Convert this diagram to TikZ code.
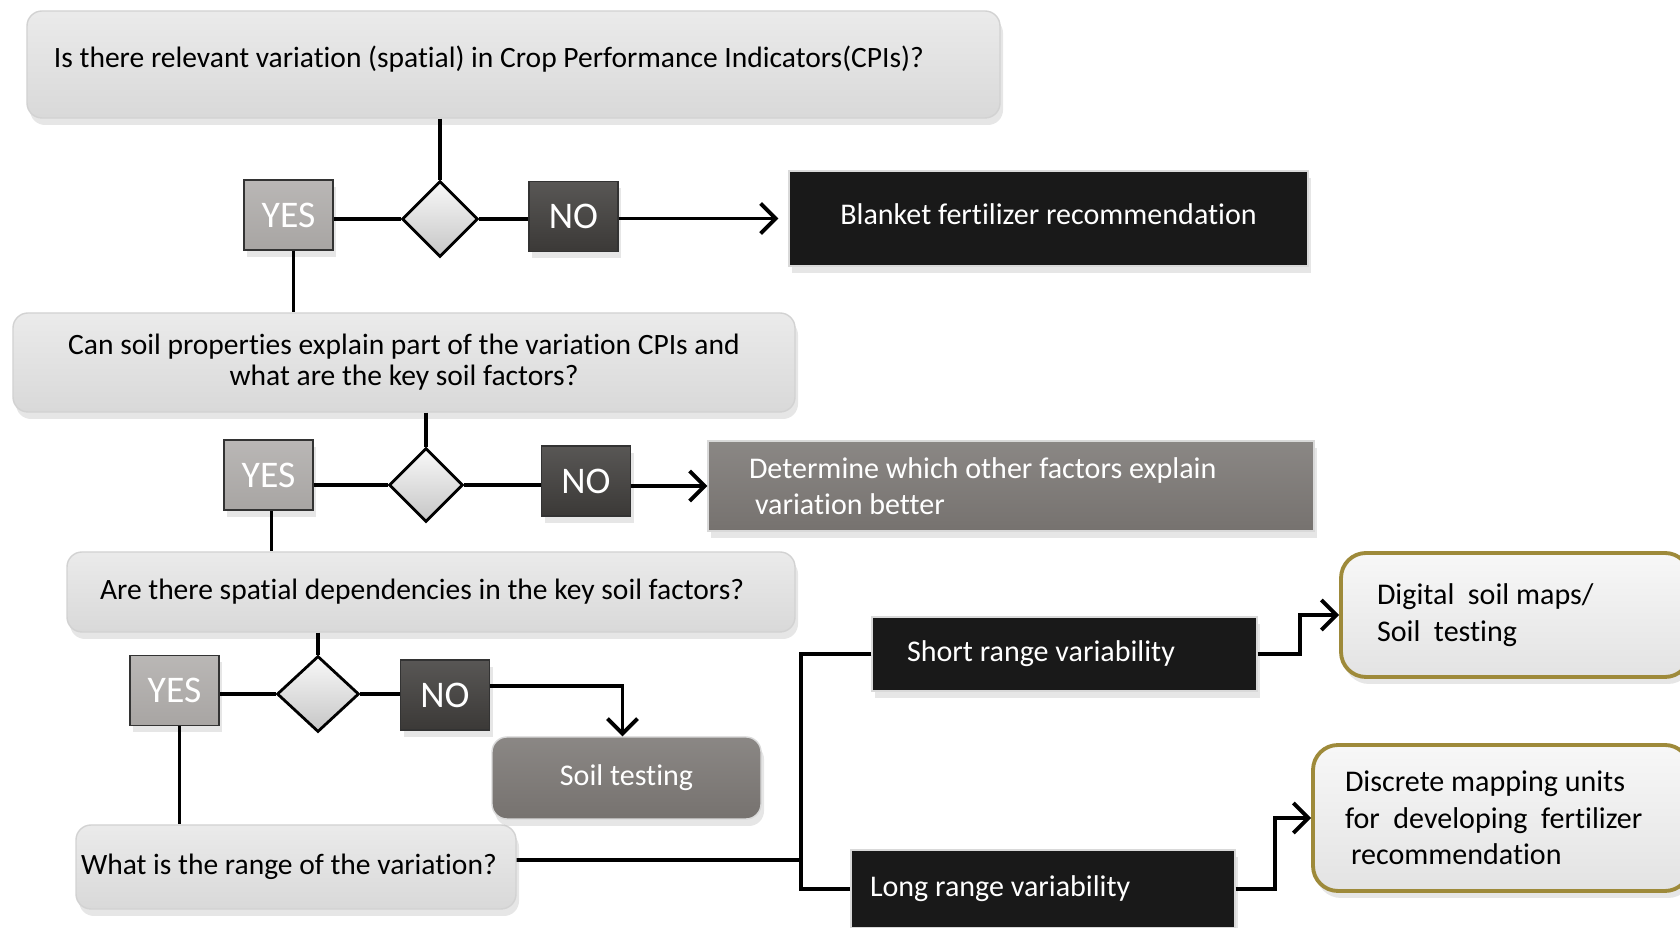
\documentclass[tikz,border=0pt]{standalone}
\usepackage{fontspec}
\setmainfont{Carlito}[Ligatures=NoCommon]
\usetikzlibrary{shapes.geometric,shadows,arrows.meta}

\definecolor{yesgray}{HTML}{A8A5A3}
\definecolor{nogray}{HTML}{3B3937}
\definecolor{midgray}{HTML}{76726F}
\definecolor{goldline}{HTML}{9E8A3A}
\hyphenpenalty=10000

\begin{document}
\begin{tikzpicture}[
	question/.style={draw=gray!35, rounded corners=1.5mm, top color=gray!16, bottom color=gray!30,
		drop shadow={opacity=0.2, shadow xshift=0.3mm, shadow yshift=-0.7mm}, inner ysep=0pt,
		font=\fontsize{8.4}{8.9}\selectfont},
	yesbox/.style={draw=black!80, top color=yesgray!80, bottom color=yesgray, text=white, minimum width=0.89cm,
		minimum height=0.7cm, inner sep=0pt, font=\fontsize{10.7}{12}\selectfont,
		drop shadow={opacity=0.2, shadow xshift=0.3mm, shadow yshift=-0.7mm}},
	nobox/.style={yesbox, top color=nogray!85, bottom color=nogray},
	choice/.style={diamond, draw=black, thick, top color=gray!5, bottom color=gray!45,
		minimum width=0.76cm, minimum height=0.76cm, inner sep=0pt},
	darkbox/.style={draw=gray!30, fill=black!90, text=white, inner ysep=0pt,
		font=\fontsize{8.55}{10.4}\selectfont, drop shadow={opacity=0.2, shadow xshift=0.3mm, shadow yshift=-0.7mm}},
	greybox/.style={draw=gray!30, top color=midgray!85, bottom color=midgray, text=white, inner ysep=0pt,
		font=\fontsize{8.55}{10.4}\selectfont, drop shadow={opacity=0.2, shadow xshift=0.3mm, shadow yshift=-0.7mm}},
	answer/.style={draw=goldline, line width=1.1pt, rounded corners=2.5mm, top color=gray!6, bottom color=gray!22,
		inner ysep=0pt, font=\fontsize{8.55}{10.4}\selectfont,
		drop shadow={opacity=0.2, shadow xshift=0.3mm, shadow yshift=-0.7mm}},
	link/.style={line width=1.1pt},
	arrow/.style={link, -{Straight Barb[length=1.5mm,width=3mm]}}
]
	\useasboundingbox (0,0) rectangle (16.8,-9.28);

	% questions
	\node [question, align=flush left, text width=9.19cm, inner xsep=0.27cm, minimum height=1.07cm] (q1) at (5.135,-0.645)
		{\raisebox{1.6mm}{Is there relevant variation (spatial) in Crop Performance Indicators(CPIs)?}};
	\node [question, align=flush center, text width=7.4cm, inner xsep=0.21cm, minimum height=0.99cm] (q2) at (4.04,-3.625)
		{\raisebox{-0.4mm}{Can soil properties explain part of the variation CPIs and}\\ \raisebox{-0.4mm}{what are the key soil factors?}};
	\node [question, align=flush left, text width=6.62cm, inner xsep=0.33cm, minimum height=0.80cm] (q3) at (4.31,-5.92)
		{\raisebox{-0.9mm}{Are there spatial dependencies in the key soil factors?}};
	\node [question, align=flush left, text width=4.30cm, inner xsep=0.05cm, minimum height=0.84cm] (q4) at (2.96,-8.67)
		{\raisebox{0.6mm}{What is the range of the variation?}};

	% decisions
	\node [choice] (d1) at (4.40,-2.19) {};
	\node [choice, minimum width=0.74cm, minimum height=0.74cm] (d2) at (4.26,-4.85) {};
	\node [choice, minimum width=0.82cm] (d3) at (3.18,-6.94) {};

	\node [yesbox] (yes1) at (2.885,-2.15) {YES};
	\node [nobox] (no1) at (5.735,-2.165) {NO};
	\node [yesbox] (yes2) at (2.685,-4.75) {YES};
	\node [nobox] (no2) at (5.86,-4.81) {NO};
	\node [yesbox] (yes3) at (1.745,-6.905) {YES};
	\node [nobox] (no3) at (4.45,-6.95) {NO};

	% outcomes
	\node [darkbox, align=center, minimum width=5.19cm, minimum height=0.95cm] (blanket) at (10.485,-2.185)
		{\raisebox{0.8mm}{Blanket fertilizer recommendation}};
	\node [greybox, align=flush left, text width=5.24cm, inner xsep=0.41cm, minimum height=0.90cm] (other) at (10.11,-4.86)
		{Determine which other factors explain\\\hspace*{0.6mm}variation better};
	\node [greybox, rounded corners=1.5mm, align=center, minimum width=2.69cm, minimum height=0.82cm] (soil) at (6.265,-7.78)
		{Soil testing};
	\node [darkbox, align=flush left, text width=3.15cm, inner xsep=0.35cm, minimum height=0.74cm] (short) at (10.645,-6.54)
		{Short range variability};
	\node [darkbox, align=flush left, text width=3.46cm, inner xsep=0.19cm, minimum height=0.78cm] (long) at (10.43,-8.89)
		{Long range variability};
	\node [answer, align=flush left, text width=2.77cm, inner xsep=0.36cm, minimum height=1.24cm] (digital) at (15.155,-6.15)
		{Digital\ \ soil maps/\\Soil\ \ testing};
	\node [answer, align=flush left, text width=3.13cm, inner xsep=0.32cm, minimum height=1.46cm] (discrete) at (15.015,-8.18)
		{Discrete mapping units\\for\ \ developing\ \ fertilizer\\\hspace*{0.6mm}recommendation};

	% connectors
	\draw [link] (q1.south -| d1.north) -- (d1.north);
	\draw [link] (d1.west) -- (d1.west -| yes1.east);
	\draw [link] (d1.east) -- (d1.east -| no1.west);
	\draw [arrow, shorten >=1mm] (no1.east |- blanket.west) -- (blanket.west);
	\draw [link] ([xshift=0.5mm]yes1.south) -- ([xshift=0.5mm]yes1.south |- q2.north);

	\draw [link] (q2.south -| d2.north) -- (d2.north);
	\draw [link] (d2.west) -- (d2.west -| yes2.east);
	\draw [link] (d2.east) -- (d2.east -| no2.west);
	\draw [arrow] (no2.east |- other.west) -- (other.west);
	\draw [link] ([xshift=0.3mm]yes2.south) -- ([xshift=0.3mm]yes2.south |- q3.north);

	\draw [link] (q3.south -| d3.north) -- (d3.north);
	\draw [link] (d3.west) -- (d3.west -| yes3.east);
	\draw [link] (d3.east) -- (d3.east -| no3.west);
	\draw [arrow] ([yshift=0.9mm]no3.east) -| ([xshift=-0.4mm]soil.north);
	\draw [link] ([xshift=0.5mm]yes3.south) -- ([xshift=0.5mm]yes3.south |- q4.north);

	\coordinate (split) at (8.01,-8.60);
	\draw [link] ([yshift=0.7mm]q4.east) -- (split);
	\draw [link] (short.west) -| (split) |- (long.west);
	\draw [arrow] (short.east) -- ++(0.42,0) |- (digital.west);
	\draw [arrow] (long.east) -- ++(0.39,0) |- (discrete.west);
\end{tikzpicture}
\end{document}
